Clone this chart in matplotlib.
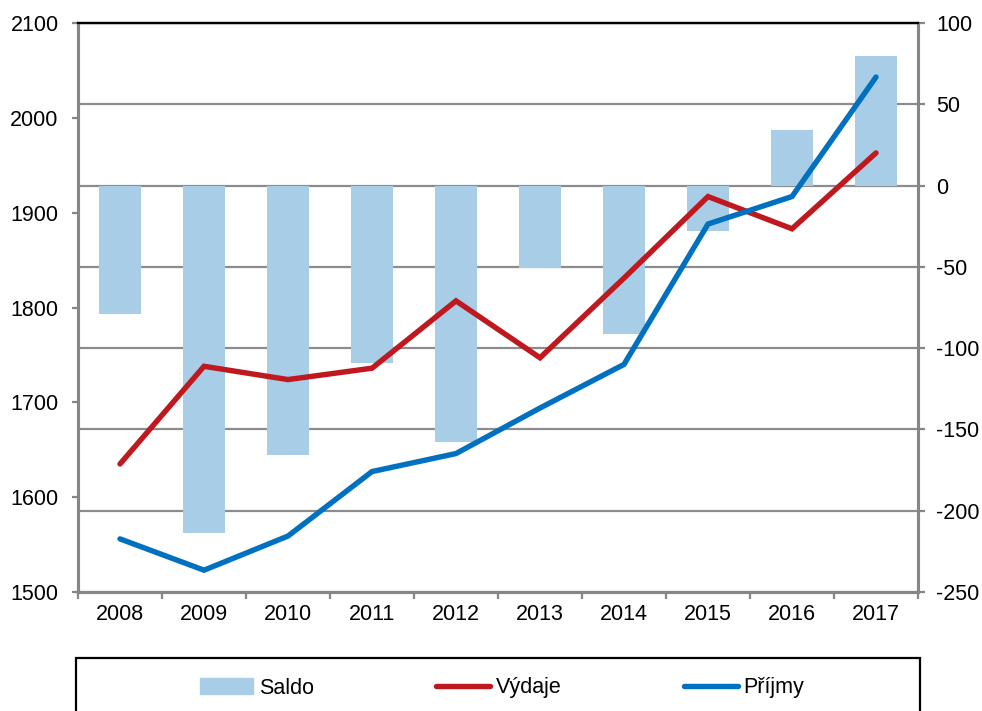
import matplotlib
matplotlib.use("Agg")
import matplotlib.pyplot as plt
from matplotlib.patches import Rectangle
from matplotlib.lines import Line2D
import numpy as np

plt.rcParams['font.family'] = ['Liberation Sans', 'DejaVu Sans']
plt.rcParams['axes.unicode_minus'] = False

years = ["2008", "2009", "2010", "2011", "2012", "2013", "2014", "2015", "2016", "2017"]
saldo = [-79, -214, -166, -109, -158, -51, -91, -28, 34, 80]
vydaje = [1635, 1738, 1724, 1736, 1807, 1747, 1831, 1917, 1883, 1963]
prijmy = [1556, 1523, 1559, 1627, 1646, 1694, 1740, 1888, 1917, 2043]

left_ticks = [1500, 1600, 1700, 1800, 1900, 2000, 2100]
right_ticks = [-250, -200, -150, -100, -50, 0, 50, 100]

c_bar = "#A7CDE7"
c_red = "#C0181F"
c_blue = "#0070C0"
c_grid = "#8C8C8C"
c_spine = "#868686"
fs = 15.5

fig = plt.figure(figsize=(9.82, 7.11), dpi=100)
ax = fig.add_axes([78/982, 1-592/711, (918-78)/982, (592-23)/711])
x = np.arange(len(years))

# bars on right-scale axis
ax.bar(x, saldo, width=0.5, color=c_bar, zorder=2)
ax.set_ylim(-250, 100)
ax.set_axisbelow(True)
ax.yaxis.grid(True, color=c_grid, linewidth=1.6)
ax.set_xlim(-0.5, len(years)-0.5)
ax.set_xticks(x)
ax.set_xticklabels(years)
ax.set_xticks(np.arange(-0.5, len(years), 1), minor=True)
ax.tick_params(axis='x', which='major', length=0, pad=9, labelsize=fs)
ax.tick_params(axis='x', which='minor', length=5, width=1.6, color=c_spine, direction='out')

# lines on left-scale axis
ax2 = ax.twinx()
ax.yaxis.tick_right()
ax.yaxis.set_label_position('right')
ax.set_yticks(right_ticks)
ax.tick_params(axis='y', which='major', length=5, width=1.6, color=c_spine, labelsize=fs, pad=8, direction='out')
ax2.yaxis.tick_left()
ax2.yaxis.set_label_position('left')
ax2.plot(x, vydaje, color=c_red, linewidth=3.9, solid_capstyle='round', solid_joinstyle='miter', zorder=3)
ax2.plot(x, prijmy, color=c_blue, linewidth=3.9, solid_capstyle='round', solid_joinstyle='miter', zorder=3)
ax2.set_ylim(1500, 2100)
ax2.set_yticks(left_ticks)
ax2.tick_params(axis='y', length=4.5, width=1.6, color=c_spine, labelsize=fs, pad=9.5, direction='out')

for a in (ax, ax2):
    a.spines['left'].set_color(c_spine)
    a.spines['left'].set_linewidth(2.2)
    a.spines['right'].set_color(c_spine)
    a.spines['right'].set_linewidth(2.2)
    a.spines['bottom'].set_color(c_spine)
    a.spines['bottom'].set_linewidth(2.2)
    a.spines['top'].set_color('black')
    a.spines['top'].set_linewidth(1.6)

# legend box
fig.patches.append(Rectangle((76/982, -0.05), (920-76)/982, 0.05 + (711-658)/711,
                             transform=fig.transFigure, fill=False, edgecolor='black',
                             linewidth=1.6, clip_on=False))
handles = [Rectangle((0, 0), 1, 1, color=c_bar),
           Line2D([0], [0], color=c_red, linewidth=3.9, solid_capstyle='round'),
           Line2D([0], [0], color=c_blue, linewidth=3.9, solid_capstyle='round')]
fig.legend(handles, ["Saldo", "Výdaje", "Příjmy"], loc='center', bbox_to_anchor=(0.511, 1-688/711),
           ncol=3, frameon=False, fontsize=fs, handlelength=2.5, handletextpad=0.25,
           columnspacing=5.7, handleheight=0.8)

fig.savefig("out.png", dpi=100)
